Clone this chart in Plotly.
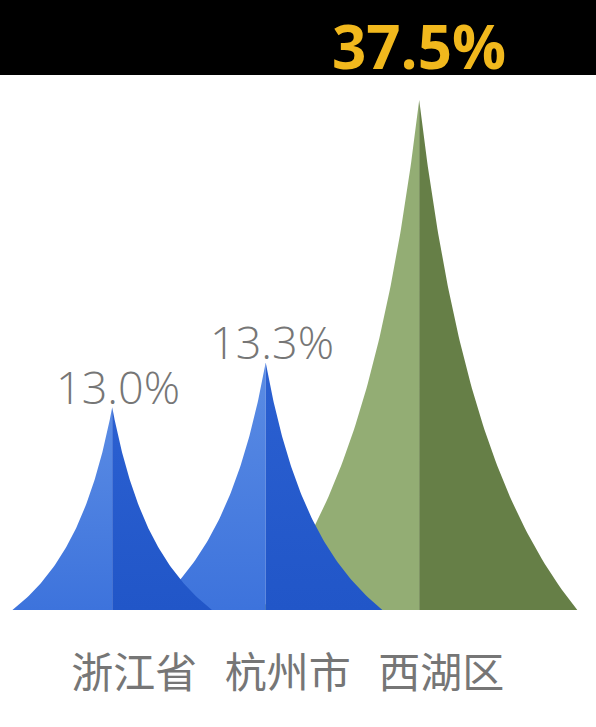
import numpy as np
import plotly.graph_objects as go

# data
categories = ["浙江省", "杭州市", "西湖区"]
values = [13.0, 13.3, 37.5]          # shown as labels
peak_heights = [14.9, 18.2, 37.5]    # drawn spike heights (same units as the tallest)

# style
half_widths = [0.65, 0.76, 1.03]
light = ["#3d73dc", "#3d73dc", "#93ad74"]
light_top = ["#5b8ce4", "#5b8ce4", "#93ad74"]
dark = ["#2156c8", "#2156c8", "#667f47"]
dark_top = ["#2b60d1", "#2b60d1", "#667f47"]
label_grey = "#767676"
gold = "#f1b81d"
K = 1.6  # how strongly the spike sides curve inwards

W, H = 596, 727
BASE_PX = 610

fig = go.Figure()

f = np.linspace(0, 1, 100)
spread = (1 - f) / (1 + K * f)

# draw back to front so the left spikes sit on top
for i in reversed(range(len(categories))):
    h = peak_heights[i]
    hw = half_widths[i]
    ys = list(f * h) + [h, 0]
    xl = list(i - hw * spread) + [i, i]
    xr = list(i + hw * spread) + [i, i]
    fig.add_trace(go.Scatter(
        x=xl, y=ys, mode="lines", fill="toself", line=dict(width=0),
        fillgradient=dict(type="vertical",
                          colorscale=[[0, light[i]], [1, light_top[i]]]),
        hoverinfo="skip", showlegend=False))
    fig.add_trace(go.Scatter(
        x=xr, y=ys, mode="lines", fill="toself", line=dict(width=0),
        fillgradient=dict(type="vertical",
                          colorscale=[[0, dark[i]], [1, dark_top[i]]]),
        hoverinfo="skip", showlegend=False))

# percentage labels
for i, v in enumerate(values):
    if i == len(values) - 1:
        continue
    fig.add_annotation(x=i, y=peak_heights[i], text=f"{v:.1f}%",
                       showarrow=False, yanchor="bottom", xshift=6, yshift=-12,
                       font=dict(family="Open Sans", size=45, color=label_grey,
                                 weight=300))

# black band with the highlighted value
band = 75 / BASE_PX
fig.add_shape(type="rect", xref="paper", yref="paper", x0=0, x1=1,
              y0=1 - band, y1=1.0, fillcolor="black", line=dict(width=0),
              layer="above")
fig.add_annotation(x=len(values) - 1, y=1 - band, yref="paper",
                   text=f"{values[-1]:.1f}%", showarrow=False,
                   yanchor="bottom", yshift=-14,
                   font=dict(family="Open Sans", size=60, color=gold,
                             weight="bold"))

unit = 153.5
left = -112.2 / unit
fig.update_layout(
    width=W, height=H,
    margin=dict(l=0, r=0, t=0, b=H - BASE_PX),
    paper_bgcolor="white", plot_bgcolor="white",
    xaxis=dict(range=[left, left + W / unit], showgrid=False, zeroline=False,
               showline=False, tickmode="array",
               tickvals=list(range(len(categories))), ticktext=categories,
               ticks="", ticklabelshift=22, ticklabelstandoff=35,
               tickfont=dict(family="Noto Sans CJK SC", size=42,
                             color=label_grey)),
    yaxis=dict(range=[0, BASE_PX / (510 / 37.5)], visible=False),
)

fig.write_html("out.html", config={"displayModeBar": False},
               post_script="document.body.style.margin='0px';")
